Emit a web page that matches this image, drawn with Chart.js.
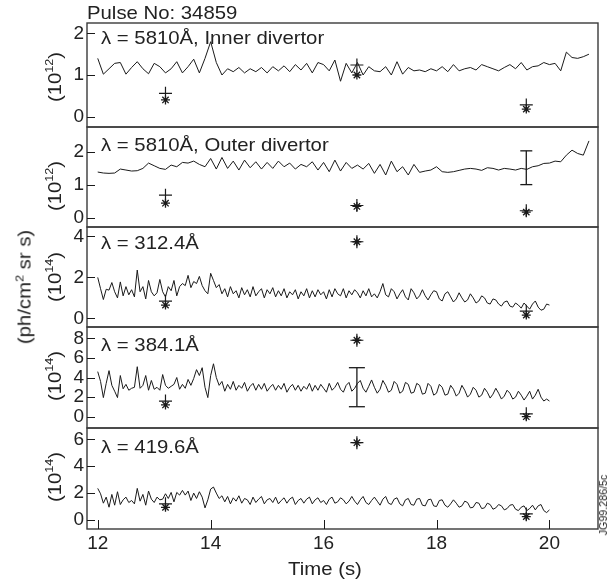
<!DOCTYPE html>
<html>
<head>
<meta charset="utf-8">
<script src="https://cdn.jsdelivr.net/npm/chart.js@4.4.0/dist/chart.umd.min.js"></script>
<style>
  html, body { margin: 0; padding: 0; background: #fff; }
  #wrap { position: relative; width: 616px; height: 585px; overflow: hidden;
          font-family: "Liberation Sans", Arial, sans-serif; color: #222; }
  #wrap canvas { position: absolute; left: 0; top: 0; }
  .txt { position: absolute; white-space: nowrap; line-height: 1; }
  .wide { transform-origin: 0 0; transform: scaleX(1.07); }
  .rot { transform: translate(-50%, -50%) rotate(-90deg) scaleX(1.07); }
  sup { font-size: 0.62em; vertical-align: 0.6em; line-height: 0; }
</style>
</head>
<body>
<div id="wrap">
  <canvas id="p1" width="616" height="585"></canvas>
  <canvas id="p2" width="616" height="585"></canvas>
  <canvas id="p3" width="616" height="585"></canvas>
  <canvas id="p4" width="616" height="585"></canvas>
  <canvas id="p5" width="616" height="585"></canvas>

  <div class="txt wide" style="left:87px; top:3px; font-size:19px;">Pulse No: 34859</div>

  <div class="txt wide" style="left:101px; top:28px; font-size:19px;">&lambda; = 5810&Aring;, Inner divertor</div>
  <div class="txt wide" style="left:101px; top:135px; font-size:19px;">&lambda; = 5810&Aring;, Outer divertor</div>
  <div class="txt wide" style="left:101px; top:233px; font-size:19px;">&lambda; = 312.4&Aring;</div>
  <div class="txt wide" style="left:101px; top:335px; font-size:19px;">&lambda; = 384.1&Aring;</div>
  <div class="txt wide" style="left:101px; top:437px; font-size:19px;">&lambda; = 419.6&Aring;</div>

  <div class="txt rot" style="left:54px; top:77px; font-size:19px;">(10<sup>12</sup>)</div>
  <div class="txt rot" style="left:54px; top:186px; font-size:19px;">(10<sup>12</sup>)</div>
  <div class="txt rot" style="left:54px; top:277px; font-size:19px;">(10<sup>14</sup>)</div>
  <div class="txt rot" style="left:54px; top:376px; font-size:19px;">(10<sup>14</sup>)</div>
  <div class="txt rot" style="left:54px; top:477px; font-size:19px;">(10<sup>14</sup>)</div>

  <div class="txt rot" style="left:24px; top:287px; font-size:19px;">(ph/cm<sup>2</sup> sr s)</div>
  <div class="txt" style="left:325px; top:568px; font-size:19px; transform:translate(-50%,-50%) scaleX(1.07);">Time (s)</div>
  <div class="txt rot" style="left:604px; top:505px; font-size:10px;">JG99.286/5c</div>
</div>

<script>
// sampling of the traces
var timeStart = 12.0;
var slowStep = 0.1;   // divertor traces
var fastStep = 0.05;  // VUV line traces

// 5810 A, inner divertor (1e12)
var innerDivertor = [
  1.40, 1.02, 1.15, 1.28, 1.30, 1.02, 1.18, 1.32, 1.15, 1.03,
  1.28, 1.20, 1.05, 1.15, 1.32, 1.05, 1.20, 1.38, 1.05, 1.40,
  1.80, 1.30, 1.00, 1.15, 1.08, 1.18, 1.05, 1.15, 1.08, 1.18,
  1.05, 1.20, 1.10, 1.22, 1.08, 1.25, 1.12, 1.28, 1.05, 1.30,
  1.25, 1.10, 1.36, 0.85, 1.28, 1.05, 1.30, 1.00, 1.20, 1.10,
  1.08, 1.20, 1.00, 1.32, 1.02, 1.18, 1.10, 1.12, 1.08, 1.15,
  1.10, 1.20, 1.08, 1.25, 1.10, 1.15, 1.18, 1.12, 1.25, 1.20,
  1.15, 1.10, 1.18, 1.25, 1.15, 1.30, 1.12, 1.20, 1.22, 1.30,
  1.25, 1.28, 1.10, 1.55, 1.42, 1.40, 1.44, 1.50
];

// 5810 A, outer divertor (1e12)
var outerDivertor = [
  1.39, 1.36, 1.35, 1.36, 1.48, 1.45, 1.42, 1.43, 1.50, 1.66,
  1.58, 1.50, 1.47, 1.60, 1.55, 1.68, 1.66, 1.72, 1.62, 1.55,
  1.80, 1.48, 1.83, 1.50, 1.72, 1.45, 1.75, 1.52, 1.70, 1.48,
  1.68, 1.50, 1.72, 1.55, 1.66, 1.48, 1.62, 1.55, 1.70, 1.45,
  1.68, 1.40, 1.75, 1.42, 1.68, 1.50, 1.60, 1.48, 1.65, 1.35,
  1.62, 1.30, 1.72, 1.40, 1.55, 1.30, 1.62, 1.38, 1.42, 1.45,
  1.55, 1.40, 1.38, 1.40, 1.44, 1.48, 1.50, 1.48, 1.44, 1.52,
  1.50, 1.45, 1.50, 1.48, 1.45, 1.50, 1.47, 1.55, 1.58, 1.65,
  1.66, 1.72, 1.70, 1.90, 2.05, 1.95, 1.90, 2.33
];

// 312.4 A (1e14)
var line3124 = [
  2.00, 1.45, 0.92, 1.42, 1.38, 1.75, 1.30, 1.00, 1.78, 1.10,
  1.55, 1.15, 1.40, 1.05, 2.36, 1.30, 1.55, 0.95, 1.85, 1.30,
  1.10, 1.25, 1.90, 1.30, 1.05, 1.55, 1.35, 1.85, 1.10, 1.55,
  1.70, 1.60, 2.10, 1.50, 1.80, 1.70, 2.05, 1.60, 1.35, 1.20,
  2.20, 1.85, 1.50, 1.65, 1.20,
  1.45, 1.05, 1.55, 1.20, 1.35, 1.00, 1.50, 1.15, 1.40, 1.05,
  1.55, 1.10, 1.30, 1.45, 1.00, 1.40, 1.20, 1.50, 1.05, 1.35,
  1.10, 1.45, 1.00, 1.30, 1.15, 1.40, 0.95, 1.30, 1.10, 1.45,
  1.00, 1.35, 1.05, 1.40, 1.15, 1.30, 0.95, 1.40, 1.05, 1.45,
  1.20, 1.10, 1.45, 1.00, 1.35, 1.15, 1.40, 1.25, 1.00, 1.35,
  1.10, 1.45, 1.05, 1.20, 1.00, 1.30, 1.70, 1.15, 1.05, 1.45,
  1.30, 0.95, 1.20, 1.40, 1.05, 0.90, 1.45, 1.25, 0.95, 1.10,
  1.40, 1.10, 0.90, 1.15, 1.35, 1.30, 0.95, 0.85, 1.20, 1.30,
  1.05, 0.80, 0.95, 1.25, 1.00, 0.80, 0.90, 1.20, 1.00, 0.75,
  0.85, 1.10, 1.00, 0.75, 0.70, 0.95, 0.90, 0.70, 0.60, 0.80,
  0.85, 0.60, 0.55, 0.75, 0.65, 0.50, 0.75, 0.60, 0.45, 0.70,
  0.85, 0.55, 0.40, 0.45, 0.70, 0.65
];

// 384.1 A (1e14)
var line3841 = [
  4.60, 3.60, 1.95, 3.40, 4.70, 3.20, 2.60, 1.95, 4.20, 2.85,
  3.30, 2.70, 2.90, 3.00, 5.10, 2.90, 3.20, 4.20, 2.70, 3.70,
  2.80, 3.00, 2.70, 4.30, 3.20, 2.90, 3.10, 3.30, 4.00, 2.80,
  3.30, 2.90, 3.80, 3.20, 3.90, 4.80, 4.20, 5.00, 3.00, 1.95,
  4.20, 5.40, 4.00, 3.20, 3.60,
  2.60, 3.30, 2.80, 3.60, 2.70, 3.20, 2.90, 3.50, 2.60, 3.10,
  3.40, 2.70, 3.30, 2.80, 3.40, 2.60, 3.00, 3.30, 2.70, 3.20,
  2.80, 3.40, 2.50, 3.00, 3.30, 2.70, 3.20, 2.60, 3.10, 2.80,
  3.40, 2.60, 3.20, 2.70, 3.30, 2.90, 2.50, 3.40, 2.70, 3.00,
  3.50, 2.80, 2.50, 3.20, 3.50, 2.60, 2.90, 3.40, 3.70, 2.90,
  2.50, 3.10, 3.75, 3.00, 2.40, 2.80, 3.70, 3.20, 2.50, 2.70,
  3.60, 3.30, 2.40, 2.60, 3.50, 3.30, 2.40, 2.50, 3.40, 3.20,
  2.30, 2.40, 3.40, 3.10, 2.20, 2.40, 3.30, 3.00, 2.20, 2.30,
  3.20, 2.80, 2.10, 2.40, 3.20, 2.70, 2.00, 2.30, 3.00, 2.70,
  2.00, 2.20, 2.90, 2.50, 1.90, 2.30, 2.90, 2.40, 1.80, 2.10,
  2.70, 2.40, 1.80, 2.00, 2.60, 2.20, 1.70, 2.10, 2.60, 1.80,
  2.20, 2.80, 2.00, 1.60, 1.80, 1.60
];

// 419.6 A (1e14)
var line4196 = [
  2.35, 1.95, 1.25, 1.70, 0.95, 1.90, 1.10, 2.10, 1.15, 1.50,
  1.70, 1.30, 1.45, 1.20, 2.35, 1.40, 1.90, 1.10, 2.15, 1.55,
  1.30, 1.70, 1.50, 1.55, 1.95, 1.60, 2.05, 1.35, 2.05, 1.85,
  2.20, 1.85, 2.15, 1.45, 2.00, 1.60, 2.10, 1.70, 0.90, 1.50,
  2.30, 2.45, 2.00, 1.60, 1.80,
  1.35, 1.75, 1.20, 1.65, 1.40, 1.80, 1.25, 1.60, 1.50, 1.15,
  1.70, 1.30, 1.55, 1.75, 1.20, 1.50, 1.60, 1.30, 1.70, 1.20,
  1.45, 1.65, 1.25, 1.55, 1.70, 1.15, 1.45, 1.60, 1.25, 1.55,
  1.70, 1.20, 1.50, 1.65, 1.30, 1.45, 1.15, 1.55, 1.70, 1.25,
  1.35, 1.65, 1.50, 1.20, 1.40, 1.75, 1.40, 1.15, 1.50, 1.75,
  1.30, 1.15, 1.45, 1.70, 1.40, 1.10, 1.55, 1.75, 1.25, 1.15,
  1.55, 1.65, 1.20, 1.05, 1.50, 1.60, 1.15, 1.10, 1.55, 1.60,
  1.10, 1.05, 1.50, 1.55, 1.05, 1.00, 1.45, 1.50, 1.10, 0.95,
  1.20, 1.50, 1.25, 0.95, 1.05, 1.40, 1.30, 0.90, 0.95, 1.30,
  1.25, 0.85, 0.90, 1.25, 1.15, 0.80, 0.90, 1.15, 1.05, 0.75,
  0.85, 1.10, 1.15, 0.80, 0.70, 0.95, 1.05, 0.70, 0.85, 1.10,
  0.75, 1.05, 1.15, 0.70, 0.55, 0.75
];

// spot measurements at three times
var markerTimes = [13.2, 16.59, 19.59];
var innerPlus = [0.56, 1.24, 0.28];
var innerStar = [0.40, 1.00, 0.18];
var outerPlus = [0.69, 0.38, 0.22];
var outerStar = [0.45, 0.35, 0.18];
var plus3124 = [0.84, 3.74, 0.35];
var star3124 = [0.65, 3.74, 0.16];
var plus3841 = [1.60, 7.80, 0.30];
var star3841 = [1.20, 7.80, 0.00];
var plus4196 = [1.20, 5.75, 0.45];
var star4196 = [0.94, 5.75, 0.25];

// error bars: [time, low, high]
var outerErr = [19.59, 1.01, 2.03];
var err3841 = [16.59, 1.02, 5.00];

// tick labels
var xTicks = [12, 14, 16, 18, 20];
var yTicks1 = [0, 1, 2];
var yTicks2 = [0, 1, 2];
var yTicks3 = [0, 2, 4];
var yTicks4 = [0, 2, 4, 6, 8];
var yTicks5 = [0, 2, 4, 6];

var INK = '#1a1a1a';
var tickFont = { family: '"Liberation Sans", Arial, sans-serif', size: 19 };

function toPoints(values, step) {
    var pts = [];
    for (var i = 0; i < values.length; i++) {
        pts.push({ x: Math.round((timeStart + i * step) * 1000) / 1000, y: values[i] });
    }
    return pts;
}

function markerPoints(values) {
    var pts = [];
    for (var i = 0; i < markerTimes.length; i++) {
        pts.push({ x: markerTimes[i], y: values[i] });
    }
    return pts;
}

// box round the plot area and inward tick marks
var framePlugin = {
    id: 'frame',
    afterDraw: function(chart) {
        var a = chart.chartArea;
        var ctx = chart.ctx;
        ctx.save();
        ctx.strokeStyle = '#3a3a3a';
        ctx.lineWidth = 1.4;
        ctx.strokeRect(a.left, a.top, a.right - a.left, a.bottom - a.top);
        ctx.lineWidth = 1;
        ctx.strokeStyle = INK;
        var ys = chart.scales.y;
        ys.ticks.forEach(function(t) {
            var p = Math.round(ys.getPixelForValue(t.value)) + 0.5;
            ctx.beginPath();
            ctx.moveTo(a.left, p);
            ctx.lineTo(a.left + 8, p);
            ctx.stroke();
        });
        var xs = chart.scales.x;
        if (xs.options.display) {
            xs.ticks.forEach(function(t) {
                var p = Math.round(xs.getPixelForValue(t.value)) + 0.5;
                ctx.beginPath();
                ctx.moveTo(p, a.bottom);
                ctx.lineTo(p, a.bottom - 9);
                ctx.stroke();
            });
        }
        ctx.restore();
    }
};

function makePanel(id, cfg) {
    var datasets = [
        {
            data: toPoints(cfg.values, cfg.step),
            borderColor: INK, borderWidth: 1, pointRadius: 0, tension: 0
        },
        {
            data: markerPoints(cfg.plus), showLine: false,
            pointStyle: 'cross', pointRadius: 6.5, pointBorderWidth: 1.2,
            pointBorderColor: INK, pointBackgroundColor: INK
        },
        {
            data: markerPoints(cfg.star), showLine: false,
            pointStyle: 'star', pointRadius: 4.5, pointBorderWidth: 1.3,
            pointBorderColor: INK, pointBackgroundColor: INK
        }
    ];
    if (cfg.err) {
        datasets.push({
            data: [{ x: cfg.err[0], y: cfg.err[1] }, { x: cfg.err[0], y: cfg.err[2] }],
            borderColor: INK, borderWidth: 1.3, tension: 0,
            pointStyle: 'line', pointRadius: cfg.capWidth, pointBorderWidth: 1.3,
            pointBorderColor: INK
        });
    }

    return new Chart(document.getElementById(id), {
        type: 'line',
        data: { datasets: datasets },
        options: {
            responsive: false,
            animation: false,
            events: [],
            layout: { padding: { left: 0, right: 18, top: cfg.top, bottom: cfg.bottomPad } },
            plugins: { legend: { display: false }, tooltip: { enabled: false } },
            scales: {
                x: {
                    type: 'linear', min: 11.81, max: 20.86,
                    display: cfg.showX,
                    grid: { display: false, drawTicks: false },
                    border: { display: false },
                    afterBuildTicks: function(scale) {
                        scale.ticks = xTicks.map(function(v) { return { value: v }; });
                    },
                    ticks: { font: tickFont, color: '#222', padding: 3, autoSkip: false, maxRotation: 0 },
                    afterFit: function(scale) {
                        // only the bottom panel carries the time axis
                        if (cfg.showX) { scale.height = 30; }
                    }
                },
                y: {
                    type: 'linear', min: cfg.min, max: cfg.max,
                    grid: { display: false, drawTicks: false },
                    border: { display: false },
                    afterBuildTicks: function(scale) {
                        scale.ticks = cfg.ticks.map(function(v) { return { value: v }; });
                    },
                    ticks: { font: tickFont, color: '#222', padding: 3, autoSkip: false },
                    afterFit: function(scale) { scale.width = 87; }
                }
            }
        },
        plugins: [framePlugin]
    });
}

makePanel('p1', { values: innerDivertor, step: slowStep, plus: innerPlus, star: innerStar,
    min: -0.25, max: 2.25, ticks: yTicks1, top: 23, bottomPad: 585 - 127, showX: false });
makePanel('p2', { values: outerDivertor, step: slowStep, plus: outerPlus, star: outerStar,
    err: outerErr, capWidth: 6,
    min: -0.27, max: 2.75, ticks: yTicks2, top: 127, bottomPad: 585 - 227, showX: false });
makePanel('p3', { values: line3124, step: fastStep, plus: plus3124, star: star3124,
    min: -0.42, max: 4.46, ticks: yTicks3, top: 227, bottomPad: 585 - 327, showX: false });
makePanel('p4', { values: line3841, step: fastStep, plus: plus3841, star: star3841,
    err: err3841, capWidth: 8,
    min: -1.15, max: 9.15, ticks: yTicks4, top: 327, bottomPad: 585 - 428, showX: false });
makePanel('p5', { values: line4196, step: fastStep, plus: plus4196, star: star4196,
    min: -0.67, max: 6.84, ticks: yTicks5, top: 428, bottomPad: 585 - 529 - 30, showX: true });
</script>
</body>
</html>
